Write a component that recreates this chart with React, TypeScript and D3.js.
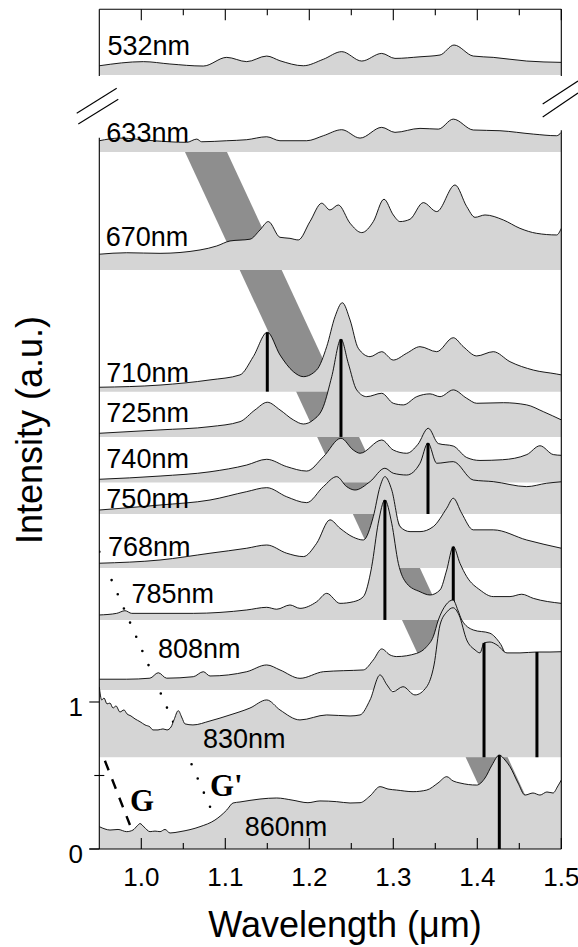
import React from "react";
import * as d3 from "d3";

// ---------- data ----------
const excitations = ["532nm", "633nm", "670nm", "710nm", "725nm", "740nm", "750nm", "768nm", "785nm", "808nm", "830nm", "860nm"];
// baseline (vertical offset) of each spectrum, a.u.
const baselines = [5.265, 4.741, 3.939, 3.111, 2.803, 2.493, 2.279, 1.912, 1.558, 1.082, 0.624, 0];

// [wavelength (um), intensity above its baseline (a.u.)]
const s532 = [[0.95,0.063],[1.0024,0.091],[1.034,0.075],[1.0738,0.061],[1.1017,0.120],[1.1255,0.091],[1.1493,0.129],[1.1651,0.097],[1.1929,0.063],[1.2167,0.107],[1.2386,0.159],[1.2624,0.095],[1.2862,0.147],[1.302,0.113],[1.3318,0.124],[1.3556,0.136],[1.3723,0.204],[1.3952,0.129],[1.419,0.120],[1.4588,0.095],[1.5,0.086]];
const s633 = [[0.95,0.077],[0.9746,0.095],[1.0143,0.077],[1.054,0.066],[1.066,0.088],[1.0719,0.070],[1.1017,0.077],[1.1255,0.084],[1.1493,0.104],[1.1651,0.077],[1.1969,0.077],[1.2167,0.111],[1.2386,0.152],[1.2604,0.095],[1.2862,0.168],[1.302,0.134],[1.3318,0.161],[1.3536,0.156],[1.3714,0.224],[1.3952,0.150],[1.427,0.145],[1.4667,0.122],[1.4945,0.111],[1.5,0.134]];
const s670 = [[0.95,0.107],[0.9826,0.117],[1.0223,0.113],[1.0699,0.136],[1.0898,0.163],[1.1056,0.197],[1.1294,0.209],[1.1413,0.272],[1.1512,0.329],[1.1651,0.222],[1.177,0.215],[1.1869,0.204],[1.2008,0.329],[1.2148,0.454],[1.2246,0.408],[1.2345,0.442],[1.2485,0.318],[1.2624,0.254],[1.2762,0.329],[1.2889,0.481],[1.3,0.374],[1.308,0.329],[1.3199,0.345],[1.3357,0.458],[1.3517,0.397],[1.3735,0.578],[1.3874,0.431],[1.3973,0.358],[1.4092,0.374],[1.431,0.340],[1.4508,0.283],[1.4707,0.249],[1.4945,0.238],[1.5,0.283]];
const s710 = [[0.95,0.030],[1.0223,0.045],[1.0818,0.080],[1.1175,0.114],[1.1333,0.238],[1.15,0.404],[1.1651,0.250],[1.181,0.136],[1.1929,0.102],[1.2088,0.148],[1.2207,0.306],[1.2306,0.510],[1.2393,0.605],[1.2485,0.488],[1.2583,0.295],[1.2723,0.238],[1.2862,0.272],[1.3,0.215],[1.3159,0.261],[1.3318,0.306],[1.3517,0.272],[1.3714,0.367],[1.3833,0.306],[1.3993,0.243],[1.419,0.272],[1.4389,0.204],[1.4667,0.147],[1.4945,0.120],[1.5,0.114]];
const s725 = [[0.95,0.025],[1.0223,0.048],[1.0818,0.070],[1.1175,0.104],[1.1354,0.184],[1.15,0.236],[1.1651,0.184],[1.181,0.116],[1.1929,0.088],[1.2048,0.116],[1.2167,0.206],[1.2267,0.410],[1.2377,0.665],[1.2464,0.501],[1.2564,0.320],[1.2683,0.274],[1.2862,0.297],[1.3,0.229],[1.3119,0.218],[1.3279,0.274],[1.3437,0.293],[1.3556,0.274],[1.3714,0.320],[1.3874,0.263],[1.3993,0.229],[1.431,0.233],[1.4588,0.218],[1.4786,0.172],[1.5,0.116]];
const s740 = [[0.95,0.022],[1.0223,0.044],[1.0818,0.073],[1.1255,0.119],[1.1493,0.158],[1.1731,0.108],[1.1969,0.078],[1.2167,0.175],[1.2377,0.301],[1.2524,0.221],[1.2604,0.199],[1.2862,0.289],[1.3,0.221],[1.3159,0.199],[1.3293,0.260],[1.3416,0.369],[1.3536,0.265],[1.3714,0.248],[1.3874,0.170],[1.4032,0.150],[1.43,0.155],[1.459,0.190],[1.4746,0.250],[1.4905,0.190],[1.5,0.185]];
const s750 = [[0.95,0.027],[1.0223,0.061],[1.0818,0.095],[1.1255,0.152],[1.1493,0.179],[1.1731,0.117],[1.1969,0.077],[1.2167,0.186],[1.2326,0.254],[1.2445,0.186],[1.2544,0.163],[1.2723,0.220],[1.29,0.311],[1.3,0.277],[1.3159,0.265],[1.3318,0.345],[1.3413,0.483],[1.3517,0.345],[1.3714,0.356],[1.3952,0.231],[1.419,0.220],[1.4588,0.186],[1.4826,0.209],[1.5,0.219]];
const s768 = [[0.95,0.032],[1.0223,0.054],[1.0818,0.100],[1.1255,0.134],[1.1493,0.156],[1.1731,0.100],[1.1929,0.077],[1.2088,0.168],[1.2246,0.327],[1.2365,0.270],[1.2524,0.209],[1.2643,0.190],[1.2762,0.349],[1.2842,0.553],[1.29,0.621],[1.2981,0.531],[1.308,0.281],[1.3199,0.247],[1.3318,0.247],[1.3476,0.281],[1.3636,0.406],[1.3714,0.474],[1.3814,0.372],[1.3952,0.259],[1.419,0.259],[1.4588,0.190],[1.5,0.134]];
const s785 = [[0.95,0.034],[0.9707,0.045],[0.9806,0.063],[0.9886,0.045],[1.0619,0.045],[1.1255,0.068],[1.1493,0.086],[1.1612,0.073],[1.177,0.102],[1.1889,0.079],[1.2088,0.124],[1.2207,0.181],[1.2365,0.113],[1.2524,0.124],[1.2643,0.158],[1.2743,0.363],[1.2821,0.658],[1.29,0.816],[1.2981,0.658],[1.306,0.385],[1.3159,0.249],[1.3318,0.192],[1.3437,0.170],[1.3556,0.204],[1.3636,0.340],[1.3714,0.499],[1.3794,0.385],[1.3874,0.295],[1.4032,0.204],[1.419,0.159],[1.4389,0.159],[1.4529,0.175],[1.4667,0.147],[1.5,0.113]];
const s808 = [[0.95,0.073],[0.9826,0.073],[1.0103,0.080],[1.0202,0.117],[1.0302,0.080],[1.0619,0.090],[1.0738,0.124],[1.0818,0.095],[1.1255,0.124],[1.1493,0.170],[1.1651,0.136],[1.1889,0.079],[1.2167,0.124],[1.2405,0.131],[1.2643,0.136],[1.2762,0.204],[1.2862,0.279],[1.2961,0.238],[1.304,0.227],[1.3279,0.249],[1.3398,0.295],[1.3476,0.363],[1.3536,0.476],[1.3625,0.578],[1.3711,0.612],[1.3768,0.544],[1.3815,0.476],[1.3952,0.408],[1.415,0.386],[1.427,0.318],[1.4429,0.147],[1.4508,0.158],[1.4667,0.238],[1.4746,0.249],[1.4866,0.158],[1.4945,0.057],[1.5,0.012]];
const s830 = [[0.95,0.478],[0.9529,0.390],[0.9556,0.403],[0.9592,0.363],[0.9627,0.369],[0.9663,0.335],[0.9699,0.349],[0.9746,0.308],[0.9794,0.322],[0.983,0.295],[0.9877,0.281],[0.9925,0.261],[0.9985,0.242],[1.0044,0.220],[1.0104,0.206],[1.0139,0.186],[1.0199,0.186],[1.0258,0.193],[1.0306,0.186],[1.0354,0.206],[1.0389,0.254],[1.044,0.317],[1.0485,0.267],[1.052,0.227],[1.0615,0.220],[1.0818,0.247],[1.1056,0.288],[1.1294,0.335],[1.1493,0.390],[1.1651,0.322],[1.1889,0.254],[1.2207,0.288],[1.2485,0.281],[1.2604,0.288],[1.2723,0.390],[1.2842,0.560],[1.2925,0.492],[1.2996,0.446],[1.3115,0.480],[1.3258,0.424],[1.3398,0.480],[1.3485,0.628],[1.3556,0.900],[1.364,0.990],[1.3711,1.017],[1.3782,0.968],[1.3874,0.798],[1.3973,0.730],[1.4032,0.710],[1.408,0.778],[1.4151,0.784],[1.4234,0.764],[1.4354,0.710],[1.4508,0.710],[1.471,0.716],[1.4865,0.716],[1.5,0.718]];
const s860 = [[0.95,0.152],[0.9568,0.136],[0.9627,0.129],[0.9723,0.133],[0.9826,0.118],[0.9901,0.129],[0.9949,0.156],[0.9985,0.173],[1.0032,0.150],[1.0104,0.118],[1.0163,0.122],[1.0223,0.118],[1.0282,0.133],[1.0342,0.109],[1.0461,0.118],[1.0699,0.152],[1.0877,0.197],[1.1017,0.265],[1.1092,0.313],[1.1175,0.320],[1.1413,0.340],[1.1612,0.347],[1.1794,0.333],[1.1984,0.315],[1.2127,0.327],[1.2326,0.322],[1.2485,0.313],[1.2604,0.315],[1.2723,0.361],[1.2842,0.424],[1.2937,0.408],[1.304,0.401],[1.3235,0.390],[1.3398,0.401],[1.3532,0.449],[1.3636,0.492],[1.3711,0.463],[1.3794,0.449],[1.3993,0.435],[1.4092,0.483],[1.4175,0.571],[1.4262,0.639],[1.433,0.605],[1.4389,0.560],[1.4485,0.449],[1.4568,0.367],[1.4663,0.381],[1.4746,0.367],[1.4829,0.388],[1.4901,0.381],[1.496,0.429],[1.5,0.469]];

const spectra = [s532, s633, s670, s710, s725, s740, s750, s768, s785, s808, s830, s860];

// resonance markers: [spectrum index, wavelength, height above baseline]
const peakBars = [[3, 1.15, 0.404], [4, 1.2377, 0.665], [6, 1.3413, 0.483], [8, 1.29, 0.816], [8, 1.3714, 0.499], [10, 1.408, 0.778], [10, 1.471, 0.716], [11, 1.4262, 0.639]];

// label anchors [wavelength, intensity]
const labelAnchors = [[0.9598, 5.401], [0.9584, 4.812], [0.9576, 4.102], [0.9584, 3.179], [0.9584, 2.907], [0.9584, 2.592], [0.9584, 2.318], [0.9603, 1.993], [0.9882, 1.671], [1.0198, 1.297], [1.0734, 0.685], [1.1231, 0.088]];

const xMajorTicks = [1.0, 1.1, 1.2, 1.3, 1.4, 1.5];
const xMinorTicks = [1.05, 1.15, 1.25, 1.35, 1.45];
const yMajorTicks = [0, 1];
const yMinorTicks = [0.5];

// shaded resonance band (parallelogram) corners [wavelength, intensity]
const bandCorners = [[1.052, 4.741], [1.102, 4.741], [1.4868, 0], [1.4368, 0]];
// guide lines
const gPrimeLine = [[0.95, 2.022], [1.0818, 0.287]];
const gLine = [[0.9567, 0.600], [0.9865, 0.163]];
const gLabels = [["G", 0.98655, 0.2585], ["G'", 1.0818, 0.3605]];

// ---------- chart ----------
const FILL = "#d5d5d5";
const BAND = "#8e8e8e";
const SANS = "'Liberation Sans', Arial, Helvetica, sans-serif";
const SERIF = "'Liberation Serif', 'Times New Roman', serif";

export default function App() {
  const left = 99.3, right = 561.3, top = 9.3, bottom = 849;
  const x = d3.scaleLinear().domain([0.95, 1.5]).range([left, right]);
  const y = d3.scaleLinear().domain([0, 5.712]).range([bottom, top]);

  const bandPath = "M" + bandCorners.map(([l, v]) => `${x(l)},${y(v)}`).join("L") + "Z";

  const guide = (pts: number[][]) => {
    const [a, b] = pts;
    const x1 = x(a[0]), y1 = y(a[1]), x2 = x(b[0]), y2 = y(b[1]);
    return { x1, y1, x2, y2, len: Math.hypot(x2 - x1, y2 - y1) };
  };
  const gp = guide(gPrimeLine);
  const gd = guide(gLine);

  const breakGapTop = y(baselines[0]) + 1;
  const leftGapBottom = y(baselines[1] + s633[0][1]) - 3;
  const rightGapBottom = y(baselines[1] + s633[s633.length - 1][1]) - 2;

  return (
    <svg width={578} height={947} style={{ position: "absolute", left: 0, top: 0, background: "#fff" }}>
      <defs>
        <clipPath id="plot">
          <rect x={left} y={top} width={right - left} height={bottom - top} />
        </clipPath>
      </defs>
      <rect x={0} y={0} width={578} height={947} fill="#fff" />
      <g clipPath="url(#plot)">
        <path d={bandPath} fill={BAND} />
        <line x1={gp.x1} y1={gp.y1} x2={gp.x2} y2={gp.y2} stroke="#000" strokeWidth={2.6}
          strokeLinecap="round" strokeDasharray={`0 ${gp.len / 18}`} />
        <line x1={gd.x1} y1={gd.y1} x2={gd.x2} y2={gd.y2} stroke="#000" strokeWidth={2.4}
          strokeDasharray="10.2 9.6" />
        {spectra.map((s, i) => {
          const b = baselines[i];
          const area = d3.area<number[]>()
            .x((d) => x(d[0]))
            .y0(y(b))
            .y1((d) => y(b + d[1]))
            .curve(d3.curveMonotoneX);
          const line = d3.line<number[]>()
            .x((d) => x(d[0]))
            .y((d) => y(b + d[1]))
            .curve(d3.curveMonotoneX);
          return (
            <g key={excitations[i]}>
              <path d={area(s) || ""} fill={FILL} />
              <path d={line(s) || ""} fill="none" stroke="#000" strokeWidth={0.9} />
              {peakBars.filter((p) => p[0] === i).map((p, k) => (
                <line key={k} x1={x(p[1])} x2={x(p[1])} y1={y(b)} y2={y(b + p[2])}
                  stroke="#000" strokeWidth={3} />
              ))}
            </g>
          );
        })}
      </g>

      {/* frame */}
      <g stroke="#000" strokeWidth={1.1} fill="none">
        <line x1={left} x2={right} y1={top} y2={top} />
        <line x1={left - 10} x2={right} y1={bottom} y2={bottom} />
        <line x1={left} x2={left} y1={top} y2={breakGapTop} />
        <line x1={left} x2={left} y1={leftGapBottom} y2={bottom} />
        <line x1={right} x2={right} y1={top} y2={breakGapTop} />
        <line x1={right} x2={right} y1={rightGapBottom} y2={bottom} />
        {xMajorTicks.map((t) => (
          <g key={"M" + t}>
            <line x1={x(t)} x2={x(t)} y1={bottom} y2={bottom - 11} />
            <line x1={x(t)} x2={x(t)} y1={top} y2={top + 11} />
          </g>
        ))}
        {xMinorTicks.map((t) => (
          <g key={"m" + t}>
            <line x1={x(t)} x2={x(t)} y1={bottom} y2={bottom - 6} />
            <line x1={x(t)} x2={x(t)} y1={top} y2={top + 6} />
          </g>
        ))}
        {yMajorTicks.map((t) => (
          <line key={"y" + t} x1={left - 10} x2={left} y1={y(t)} y2={y(t)} />
        ))}
        {yMinorTicks.map((t) => (
          <line key={"ym" + t} x1={left - 5} x2={left + 5} y1={y(t)} y2={y(t)} />
        ))}
        {/* axis break marks */}
        <line x1={left - 22.6} y1={113.3} x2={left + 17.4} y2={88.3} />
        <line x1={left - 21} y1={124} x2={left + 19} y2={99.3} />
        <line x1={right - 18.6} y1={104} x2={right + 16.7} y2={81} />
        <line x1={right - 18.6} y1={117} x2={right + 16.7} y2={93} />
      </g>

      {/* tick labels */}
      <g fontFamily={SANS} fontSize={26} fill="#000">
        {xMajorTicks.map((t) => (
          <text key={"xl" + t} x={x(t)} y={886} textAnchor="middle">{d3.format(".1f")(t)}</text>
        ))}
        {yMajorTicks.map((t) => (
          <text key={"yl" + t} x={83} y={y(t) + 14} textAnchor="end">{d3.format("d")(t)}</text>
        ))}
      </g>

      {/* spectrum labels */}
      <g fontFamily={SANS} fontSize={27} fill="#000">
        {excitations.map((e, i) => (
          <text key={e} x={x(labelAnchors[i][0])} y={y(labelAnchors[i][1])}>{e}</text>
        ))}
      </g>
      <g fontFamily={SERIF} fontWeight="bold" fontSize={31} fill="#000">
        {gLabels.map(([t, l, v]) => (
          <text key={t as string} x={x(l as number)} y={y(v as number)}>{t}</text>
        ))}
      </g>

      {/* axis titles */}
      <text x={345} y={937} textAnchor="middle" fontFamily={SANS} fontSize={36}>Wavelength (μm)</text>
      <text transform="translate(42,430) rotate(-90)" textAnchor="middle" fontFamily={SANS} fontSize={36}>Intensity (a.u.)</text>
    </svg>
  );
}
